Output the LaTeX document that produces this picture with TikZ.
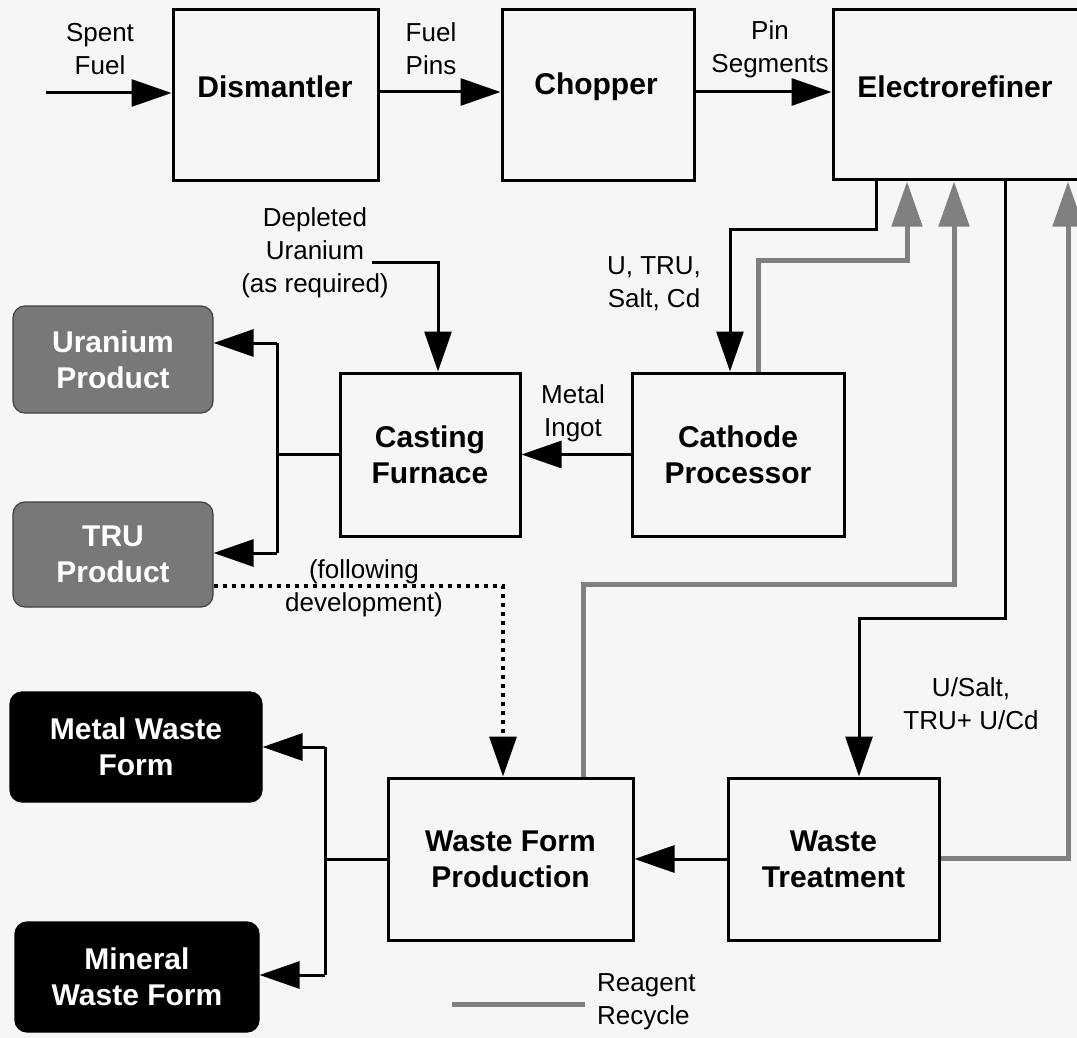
\documentclass[tikz,border=0pt]{standalone}
\usepackage{fontspec}
\setmainfont{Liberation Sans}
\usetikzlibrary{arrows.meta}
\definecolor{bgc}{RGB}{246,246,246}
\definecolor{recc}{RGB}{128,128,128}
\definecolor{prodc}{RGB}{120,120,120}
\begin{document}
\begin{tikzpicture}[x=1pt,y=-1pt,
  boxtxt/.style={font=\bfseries\fontsize{30}{36}\selectfont, align=center, inner sep=0pt},
  procbox/.style={draw, line width=3pt, inner sep=0pt, boxtxt},
  prodbox/.style={draw=black!75, line width=1.2pt, fill=prodc, rounded corners=12pt, inner sep=0pt, text=white, boxtxt},
  wastebox/.style={draw=black, line width=1.2pt, fill=black, rounded corners=12pt, inner sep=0pt, text=white, boxtxt},
  lbl/.style={font=\fontsize{26}{33}\selectfont, align=center, inner sep=0pt},
  flow/.style={line width=3pt},
  arr/.style={flow, -{Triangle[length=40pt,width=27pt]}},
  rec/.style={line width=5pt, draw=recc, -{Triangle[length=45pt,width=30pt,fill=recc]}},
  recline/.style={line width=5pt, draw=recc},
  dotline/.style={line width=3.5pt, dash pattern=on 4pt off 5pt, -{Triangle[length=40pt,width=27pt]}}
]
\fill[bgc] (0,0) rectangle (1077,1038);
\useasboundingbox (0,0) rectangle (1077,1038);

% process boxes
\node[procbox, minimum width=205pt, minimum height=171pt] (dis) at (275.5,95.5) {};
\node[boxtxt] (distxt) at (275,87) {Dismantler};
\node[procbox, minimum width=192pt, minimum height=171pt] (chop) at (598,95.5) {};
\node[boxtxt] (choptxt) at (596,87) {Chopper};
\node[procbox, minimum width=250pt, minimum height=170pt] (er) at (958,95) {};
\node[boxtxt] (ertxt) at (955,87) {Electrorefiner};
\node[procbox, minimum width=180pt, minimum height=163pt] (cast) at (430,454.5) {Casting\\Furnace};
\node[procbox, minimum width=212pt, minimum height=163pt] (cath) at (738,454.5) {Cathode\\Processor};
\node[procbox, minimum width=245pt, minimum height=162pt] (wfp) at (510.5,859) {Waste Form\\Production};
\node[procbox, minimum width=211pt, minimum height=162pt] (wt) at (833.5,859) {Waste\\Treatment};

% product boxes
\node[prodbox, minimum width=200pt, minimum height=107pt] (uran) at (113,359.5) {Uranium\\Product};
\node[prodbox, minimum width=200pt, minimum height=105pt] (tru) at (113,554.5) {TRU\\Product};
\node[wastebox, minimum width=252pt, minimum height=110pt] (metal) at (136,747) {Metal Waste\\Form};
\node[wastebox, minimum width=244pt, minimum height=110pt] (mineral) at (137,977) {Mineral\\Waste Form};

% coordinates
\coordinate (sfin) at (46,93);
\coordinate (fp) at (0,92);
\coordinate (e1) at (876,229);
\coordinate (e1b) at (730,229);
\coordinate (g1a) at (758,260);
\coordinate (g1b) at (907,260);
\coordinate (g2a) at (583,584);
\coordinate (g2b) at (954,584);
\coordinate (g3a) at (1068,858);
\coordinate (b1) at (1005,618);
\coordinate (b2) at (859,618);
\coordinate (dul) at (372,262);
\coordinate (dur) at (438,262);
\coordinate (jc) at (277,454.5);
\coordinate (ju) at (277,343);
\coordinate (jt) at (277,553);
\coordinate (d1) at (503,586);
\coordinate (jw) at (325,859);
\coordinate (jm) at (325,747);
\coordinate (jn) at (325,975);
\coordinate (lg1) at (452,1004);
\coordinate (lg2) at (585,1004);

% main flow
\draw[arr] (sfin) -- (sfin -| dis.west);
\draw[arr] (fp -| dis.east) -- (fp -| chop.west);
\draw[arr] (fp -| chop.east) -- (fp -| er.west);
\draw[arr] (er.south -| e1) -- (e1) -- (e1b) -- (e1b |- cath.north);
\draw[arr] (cath.west) -- (cath.west -| cast.east);
\draw[arr] (dul) -- (dur) -- (dur |- cast.north);
\draw[flow] (cast.west) -- (jc);
\draw[flow] (ju) -- (jt);
\draw[arr] (ju) -- (ju -| uran.east);
\draw[arr] (jt) -- (jt -| tru.east);
\draw[dotline] (tru.east |- d1) -- (d1) -- (d1 |- wfp.north);
\draw[arr] (er.south -| b1) -- (b1) -- (b2) -- (b2 |- wt.north);
\draw[arr] (wt.west) -- (wt.west -| wfp.east);
\draw[flow] (wfp.west) -- (jw);
\draw[flow] (jm) -- (jn);
\draw[arr] (jm) -- (jm -| metal.east);
\draw[arr] (jn) -- (jn -| mineral.east);

% reagent recycle
\draw[rec] (cath.north -| g1a) -- (g1a) -- (g1b) -- (g1b |- er.south);
\draw[rec] (wfp.north -| g2a) -- (g2a) -- (g2b) -- (g2b |- er.south);
\draw[rec] (wt.east |- g3a) -- (g3a) -- (g3a |- er.south);
\draw[recline] (lg1) -- (lg2);

% labels
\node[lbl] (lsf) at (100,49) {Spent\\Fuel};
\node[lbl] (lfp) at (431,49) {Fuel\\Pins};
\node[lbl] (lps) at (770,49) {Pin\\Segments};
\node[lbl] (ldu) at (315,253) {Depleted\\Uranium\\(as required)};
\node[lbl] (lut) at (654,284) {U, TRU,\\Salt, Cd};
\node[lbl] (lmi) at (573,413) {Metal\\Ingot};
\node[lbl] (lfd) at (364,588) {(following\\development)};
\node[lbl] (lus) at (971,704) {U/Salt,\\TRU+ U/Cd};
\node[lbl, align=left, anchor=west] (lrr) at (597,1002) {Reagent\\Recycle};
\end{tikzpicture}
\end{document}
